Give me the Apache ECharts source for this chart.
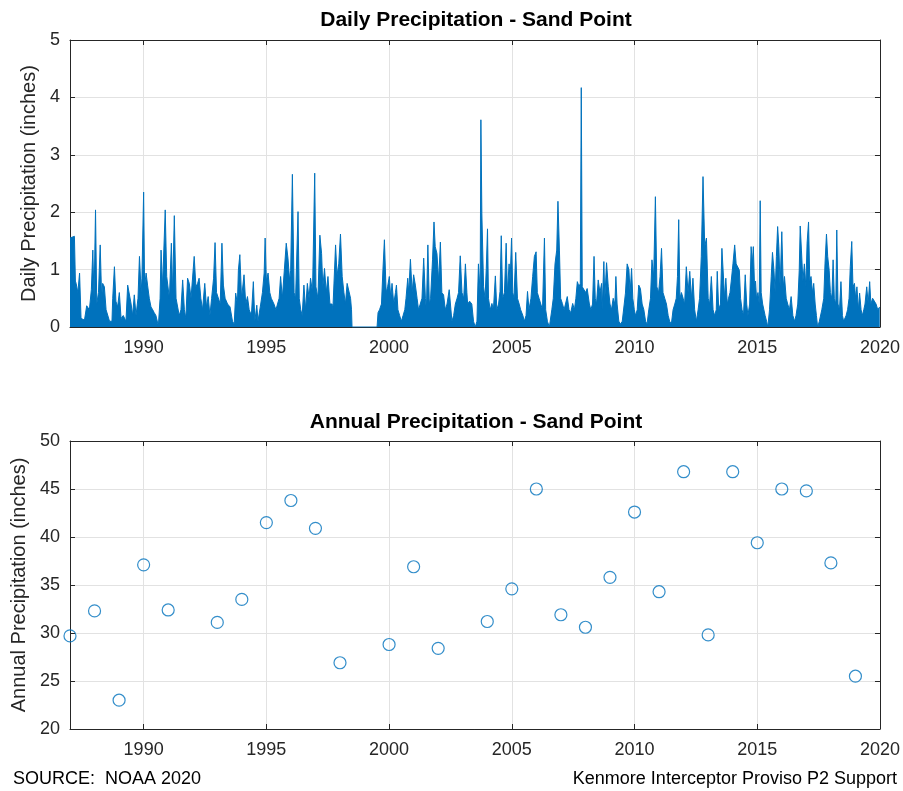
<!DOCTYPE html>
<html>
<head>
<meta charset="utf-8">
<title>Precipitation - Sand Point</title>
<script src="https://cdn.jsdelivr.net/npm/echarts@6/dist/echarts.min.js"></script>
<style>
  html, body { margin: 0; padding: 0; background: #fff; }
  #chart { width: 903px; height: 791px; }
</style>
</head>
<body>
<div id="chart"></div>
<script>
// daily precipitation outline: [decimal year, inches]
const dailyPrecip = [
  [1987.00,1.55],[1987.05,1.58],[1987.18,1.58],[1987.22,0.80],[1987.25,0.76],[1987.32,0.60],[1987.39,0.94],[1987.45,0.15],
  [1987.59,0.12],[1987.68,0.37],[1987.79,0.30],[1987.87,0.65],[1987.93,1.34],[1987.98,0.50],[1988.04,2.04],[1988.09,0.40],
  [1988.16,0.60],[1988.23,1.43],[1988.29,0.50],[1988.33,0.76],[1988.40,0.70],[1988.47,0.30],[1988.61,0.10],[1988.71,0.10],
  [1988.74,0.50],[1988.81,1.05],[1988.87,0.45],[1988.94,0.35],[1989.01,0.60],[1989.08,0.15],[1989.17,0.20],[1989.28,0.10],
  [1989.35,0.73],[1989.42,0.75],[1989.49,0.40],[1989.55,0.20],[1989.62,0.56],[1989.69,0.20],[1989.77,0.50],[1989.83,1.23],
  [1989.90,0.60],[1989.93,0.85],[1990.00,2.35],[1990.04,0.70],[1990.10,0.94],[1990.16,0.73],[1990.23,0.50],[1990.30,0.35],
  [1990.37,0.30],[1990.43,0.25],[1990.50,0.20],[1990.60,0.02],[1990.67,0.50],[1990.71,1.34],[1990.77,0.70],[1990.88,2.04],
  [1990.94,0.88],[1990.99,0.88],[1991.05,0.50],[1991.13,1.46],[1991.18,0.60],[1991.25,1.94],[1991.32,0.50],[1991.39,0.47],
  [1991.45,0.20],[1991.52,0.30],[1991.59,0.82],[1991.66,0.30],[1991.72,0.15],[1991.79,0.85],[1991.86,0.76],[1991.93,0.50],
  [1992.06,1.23],[1992.13,0.70],[1992.20,0.76],[1992.26,0.85],[1992.33,0.50],[1992.40,0.30],[1992.49,0.76],[1992.56,0.35],
  [1992.63,0.53],[1992.70,0.20],[1992.77,0.50],[1992.85,0.85],[1992.91,1.47],[1992.97,0.60],[1993.04,0.59],[1993.12,0.40],
  [1993.19,1.46],[1993.25,0.73],[1993.32,0.50],[1993.42,0.40],[1993.52,0.35],[1993.62,0.10],[1993.69,0.05],[1993.75,0.59],
  [1993.82,0.40],[1993.86,0.99],[1993.92,1.26],[1993.99,0.50],[1994.09,0.91],[1994.16,0.40],[1994.23,0.53],[1994.30,0.30],
  [1994.39,0.20],[1994.47,0.79],[1994.53,0.10],[1994.61,0.38],[1994.66,0.10],[1994.77,0.40],[1994.84,0.60],[1994.91,0.94],
  [1994.95,1.55],[1995.00,0.80],[1995.07,0.94],[1995.14,0.60],[1995.20,0.50],[1995.31,0.40],[1995.39,0.30],[1995.45,0.30],
  [1995.52,0.50],[1995.58,0.88],[1995.65,0.50],[1995.72,0.50],[1995.81,1.46],[1995.88,1.20],[1995.95,0.80],[1995.99,0.99],
  [1996.06,2.66],[1996.13,0.60],[1996.19,0.50],[1996.29,2.01],[1996.34,0.50],[1996.40,0.30],[1996.46,0.20],[1996.53,0.73],
  [1996.60,0.30],[1996.67,0.76],[1996.74,0.50],[1996.80,0.85],[1996.88,0.60],[1996.97,2.68],[1997.02,0.70],[1997.10,0.50],
  [1997.18,1.60],[1997.25,1.28],[1997.30,0.70],[1997.37,1.02],[1997.44,0.60],[1997.51,0.88],[1997.59,0.40],[1997.68,0.40],
  [1997.71,0.30],[1997.82,1.43],[1997.88,0.90],[1997.95,1.10],[1998.02,1.62],[1998.09,0.88],[1998.16,0.60],[1998.22,0.40],
  [1998.29,0.76],[1998.36,0.76],[1998.43,0.50],[1998.47,0.30],[1998.49,0.00],[1999.51,0.00],[1999.55,0.25],[1999.61,0.30],
  [1999.69,0.40],[1999.75,1.00],[1999.81,1.52],[1999.88,0.60],[1999.94,0.70],[2000.01,0.88],[2000.07,0.50],[2000.12,0.76],
  [2000.19,0.40],[2000.26,0.60],[2000.30,0.73],[2000.36,0.30],[2000.43,0.20],[2000.50,0.10],[2000.57,0.20],[2000.64,0.30],
  [2000.69,0.50],[2000.76,0.85],[2000.80,0.60],[2000.87,1.18],[2000.94,0.60],[2001.00,0.91],[2001.07,0.73],[2001.14,0.50],
  [2001.20,0.30],[2001.27,0.40],[2001.34,0.50],[2001.41,1.20],[2001.48,0.50],[2001.52,0.30],[2001.58,1.43],[2001.64,0.40],
  [2001.69,0.50],[2001.77,1.17],[2001.83,1.83],[2001.88,1.40],[2001.95,1.28],[2002.02,0.80],[2002.09,1.48],[2002.15,0.60],
  [2002.22,0.56],[2002.29,0.30],[2002.36,0.40],[2002.45,0.65],[2002.52,0.30],[2002.56,0.10],[2002.63,0.20],[2002.70,0.40],
  [2002.77,0.50],[2002.83,0.60],[2002.90,1.24],[2002.97,0.60],[2003.04,0.50],[2003.11,1.10],[2003.17,0.60],[2003.20,0.40],
  [2003.28,0.45],[2003.37,0.40],[2003.44,0.10],[2003.51,0.00],[2003.58,0.10],[2003.64,1.10],[2003.71,0.60],[2003.74,3.61],
  [2003.78,1.97],[2003.85,0.70],[2003.91,0.50],[2003.96,1.02],[2004.01,1.71],[2004.05,0.50],[2004.12,0.30],[2004.19,0.41],
  [2004.25,0.30],[2004.33,0.89],[2004.39,0.30],[2004.46,0.40],[2004.52,0.62],[2004.57,1.59],[2004.63,0.50],[2004.70,0.60],
  [2004.77,1.46],[2004.82,0.60],[2004.89,1.10],[2004.93,0.80],[2004.99,1.55],[2005.04,0.60],[2005.09,0.50],[2005.16,1.30],
  [2005.23,0.50],[2005.30,0.40],[2005.36,0.30],[2005.45,0.20],[2005.51,0.10],[2005.58,0.20],[2005.64,0.62],[2005.70,0.30],
  [2005.78,0.50],[2005.85,0.88],[2005.92,1.23],[2005.99,1.31],[2006.04,0.60],[2006.11,0.50],[2006.18,0.40],[2006.25,0.30],
  [2006.33,1.55],[2006.38,0.30],[2006.45,0.10],[2006.53,0.00],[2006.63,0.30],[2006.69,0.50],[2006.76,1.10],[2006.83,1.34],
  [2006.88,2.19],[2006.94,1.34],[2006.99,0.50],[2007.06,0.41],[2007.13,0.30],[2007.19,0.30],[2007.26,0.53],[2007.33,0.30],
  [2007.40,0.25],[2007.48,0.41],[2007.55,0.30],[2007.61,0.50],[2007.67,0.79],[2007.74,0.70],[2007.79,0.76],[2007.83,4.17],
  [2007.87,0.70],[2007.94,0.70],[2008.01,0.60],[2008.07,0.67],[2008.16,0.40],[2008.22,0.30],[2008.29,0.40],[2008.35,1.23],
  [2008.40,0.50],[2008.45,0.40],[2008.52,0.82],[2008.59,0.60],[2008.66,0.76],[2008.68,0.30],[2008.75,1.14],[2008.79,0.50],
  [2008.86,1.12],[2008.93,0.70],[2009.00,0.40],[2009.06,0.30],[2009.13,0.50],[2009.20,0.40],[2009.24,0.88],[2009.29,0.40],
  [2009.36,0.10],[2009.43,0.05],[2009.50,0.10],[2009.58,0.40],[2009.63,0.59],[2009.70,1.10],[2009.77,1.00],[2009.82,0.60],
  [2009.88,1.02],[2009.93,0.50],[2009.99,0.30],[2010.04,0.20],[2010.11,0.30],[2010.17,0.73],[2010.24,0.67],[2010.31,0.40],
  [2010.38,0.30],[2010.45,0.10],[2010.51,0.05],[2010.58,0.30],[2010.65,0.50],[2010.71,1.17],[2010.78,0.88],[2010.85,2.27],
  [2010.91,0.70],[2010.98,0.60],[2011.04,0.88],[2011.10,1.37],[2011.16,0.60],[2011.23,0.50],[2011.30,0.40],[2011.37,0.20],
  [2011.43,0.10],[2011.50,0.05],[2011.57,0.30],[2011.64,0.40],[2011.70,0.50],[2011.75,0.88],[2011.80,1.87],[2011.85,0.50],
  [2011.91,0.60],[2011.98,0.50],[2012.04,0.40],[2012.11,1.05],[2012.18,0.60],[2012.25,0.97],[2012.32,0.50],[2012.38,0.85],
  [2012.45,0.30],[2012.52,0.10],[2012.59,0.30],[2012.65,0.50],[2012.72,1.23],[2012.79,2.62],[2012.86,1.40],[2012.93,1.55],
  [2013.00,0.50],[2013.06,0.40],[2013.13,0.88],[2013.20,0.30],[2013.26,0.20],[2013.33,0.30],[2013.37,0.97],[2013.43,0.30],
  [2013.50,0.40],[2013.56,1.37],[2013.62,1.34],[2013.67,0.50],[2013.72,0.85],[2013.78,0.40],[2013.83,0.50],[2013.89,0.60],
  [2013.94,0.80],[2014.01,1.10],[2014.08,1.43],[2014.14,1.10],[2014.27,0.99],[2014.32,0.50],[2014.38,0.30],[2014.44,0.20],
  [2014.51,0.91],[2014.57,0.40],[2014.62,0.20],[2014.69,0.40],[2014.75,1.40],[2014.80,1.10],[2014.84,1.40],[2014.89,0.70],
  [2014.93,0.80],[2014.97,0.50],[2015.03,0.60],[2015.08,0.40],[2015.12,2.20],[2015.16,0.60],[2015.22,0.40],[2015.27,0.30],
  [2015.32,0.20],[2015.38,0.10],[2015.43,0.00],[2015.50,0.30],[2015.57,0.88],[2015.62,1.30],[2015.68,0.99],[2015.73,0.60],
  [2015.78,1.23],[2015.83,1.75],[2015.88,1.40],[2015.93,0.70],[2016.00,1.66],[2016.06,0.70],[2016.11,0.88],[2016.18,0.50],
  [2016.24,0.40],[2016.31,0.30],[2016.38,0.53],[2016.45,0.20],[2016.52,0.10],[2016.58,0.20],[2016.65,0.40],[2016.71,0.99],
  [2016.75,1.76],[2016.80,1.34],[2016.86,0.80],[2016.92,1.10],[2016.98,0.70],[2017.03,1.46],[2017.09,1.83],[2017.14,0.80],
  [2017.19,0.88],[2017.25,0.60],[2017.30,0.76],[2017.36,0.40],[2017.41,0.20],[2017.46,0.00],[2017.53,0.10],[2017.63,0.30],
  [2017.71,0.50],[2017.76,1.10],[2017.82,1.62],[2017.87,1.23],[2017.93,0.99],[2017.98,0.60],[2018.04,0.50],[2018.09,1.17],
  [2018.14,0.50],[2018.20,0.40],[2018.24,1.69],[2018.29,0.40],[2018.35,0.30],[2018.41,0.79],[2018.47,0.20],[2018.52,0.10],
  [2018.62,0.20],[2018.68,0.30],[2018.74,0.50],[2018.79,1.05],[2018.85,1.49],[2018.90,0.70],[2018.96,0.76],[2019.01,0.50],
  [2019.06,0.70],[2019.12,0.30],[2019.17,0.59],[2019.23,0.30],[2019.28,0.20],[2019.34,0.30],[2019.39,0.40],[2019.46,0.70],
  [2019.52,0.41],[2019.58,0.79],[2019.63,0.40],[2019.70,0.50],[2019.77,0.53],[2019.84,0.40],[2019.91,0.30],[2019.99,0.35]
];

// annual totals (inches)
const annualYears = [1987, 1988, 1989, 1990, 1991, 1993, 1994, 1995, 1996, 1997, 1998, 2000, 2001, 2002, 2004,
  2005, 2006, 2007, 2008, 2009, 2010, 2011, 2012, 2013, 2014, 2015, 2016, 2017, 2018, 2019];
const annualPrecip = [29.7, 32.3, 23.0, 37.1, 32.4, 31.1, 33.5, 41.5, 43.8, 40.9, 26.9, 28.8, 36.9, 28.4, 31.2,
  34.6, 45.0, 31.9, 30.6, 35.8, 42.6, 34.3, 46.8, 29.8, 46.8, 39.4, 45.0, 44.8, 37.3, 25.5];

const xMin = 1987, xMax = 2020;
const dailyTicks = [0, 5, 1];      // min, max, step
const annualTicks = [20, 50, 5];

const blue = '#0072BD';
const ink = '#262626';
const font = 'Liberation Sans, Arial, sans-serif';

const chart = echarts.init(document.getElementById('chart'));

function xAxis(gridIndex, position) {
  const bottom = position === 'bottom';
  return {
    type: 'value', gridIndex, position, min: xMin, max: xMax,
    splitNumber: 7, minInterval: 5, maxInterval: 5,
    axisLine: { show: true, onZero: false, lineStyle: { color: ink, width: 1 } },
    axisTick: { show: true, inside: true, length: 5, lineStyle: { color: ink } },
    axisLabel: { show: bottom, showMinLabel: false, color: ink, fontSize: 18, fontFamily: font, margin: 12,
      formatter: v => String(v) },
    splitLine: { show: bottom, lineStyle: { color: '#e2e2e2', width: 1 } }
  };
}

function yAxis(gridIndex, position, ticks, name, nameGap) {
  const left = position === 'left';
  return {
    type: 'value', gridIndex, position, min: ticks[0], max: ticks[1], interval: ticks[2],
    name: left ? name : '', nameLocation: 'middle', nameRotate: 90, nameGap,
    nameTextStyle: { color: ink, fontSize: 20, fontFamily: font },
    axisLine: { show: true, onZero: false, lineStyle: { color: ink, width: 1 } },
    axisTick: { show: true, inside: true, length: 5, lineStyle: { color: ink } },
    axisLabel: { show: left, color: ink, fontSize: 18, fontFamily: font, margin: 10 },
    splitLine: { show: left, lineStyle: { color: '#e2e2e2', width: 1 } }
  };
}

const option = {
  animation: false,
  backgroundColor: '#fff',
  grid: [
    { left: 70, right: 20, top: 40, height: 287 },
    { left: 70, right: 20, top: 441, height: 288 }
  ],
  xAxis: [
    xAxis(0, 'bottom'), xAxis(0, 'top'),
    xAxis(1, 'bottom'), xAxis(1, 'top')
  ],
  yAxis: [
    yAxis(0, 'left', dailyTicks, 'Daily Precipitation (inches)', 29),
    yAxis(0, 'right', dailyTicks, '', 0),
    yAxis(1, 'left', annualTicks, 'Annual Precipitation (inches)', 36),
    yAxis(1, 'right', annualTicks, '', 0)
  ],
  graphic: [
    { type: 'text', x: 476, y: 20, style: { text: 'Daily Precipitation - Sand Point', fill: '#000',
      font: 'bold 21px ' + font, textAlign: 'center', textVerticalAlign: 'middle', align: 'center', verticalAlign: 'middle' } },
    { type: 'text', x: 476, y: 422, style: { text: 'Annual Precipitation - Sand Point', fill: '#000',
      font: 'bold 21px ' + font, textAlign: 'center', textVerticalAlign: 'middle', align: 'center', verticalAlign: 'middle' } },
    { type: 'text', x: 13, y: 779, style: { text: 'SOURCE:  NOAA 2020', fill: '#000',
      font: '18px ' + font, textAlign: 'left', textVerticalAlign: 'middle', align: 'left', verticalAlign: 'middle' } },
    { type: 'text', x: 897, y: 779, style: { text: 'Kenmore Interceptor Proviso P2 Support', fill: '#000',
      font: '18px ' + font, textAlign: 'right', textVerticalAlign: 'middle', align: 'right', verticalAlign: 'middle' } }
  ],
  series: [
    {
      name: 'Daily', type: 'line', xAxisIndex: 0, yAxisIndex: 0,
      data: dailyPrecip, showSymbol: false, symbol: 'none',
      lineStyle: { color: blue, width: 1 },
      areaStyle: { color: blue, opacity: 1 },
      z: 3
    },
    {
      name: 'Annual', type: 'scatter', xAxisIndex: 2, yAxisIndex: 2, clip: false,
      data: annualYears.map((y, i) => [y, annualPrecip[i]]),
      symbol: 'circle', symbolSize: 12,
      itemStyle: { color: 'rgba(255,255,255,0)', borderColor: blue, borderWidth: 1.2 },
      z: 3
    }
  ]
};

chart.setOption(option);
window.addEventListener('resize', () => chart.resize());
</script>
</body>
</html>
